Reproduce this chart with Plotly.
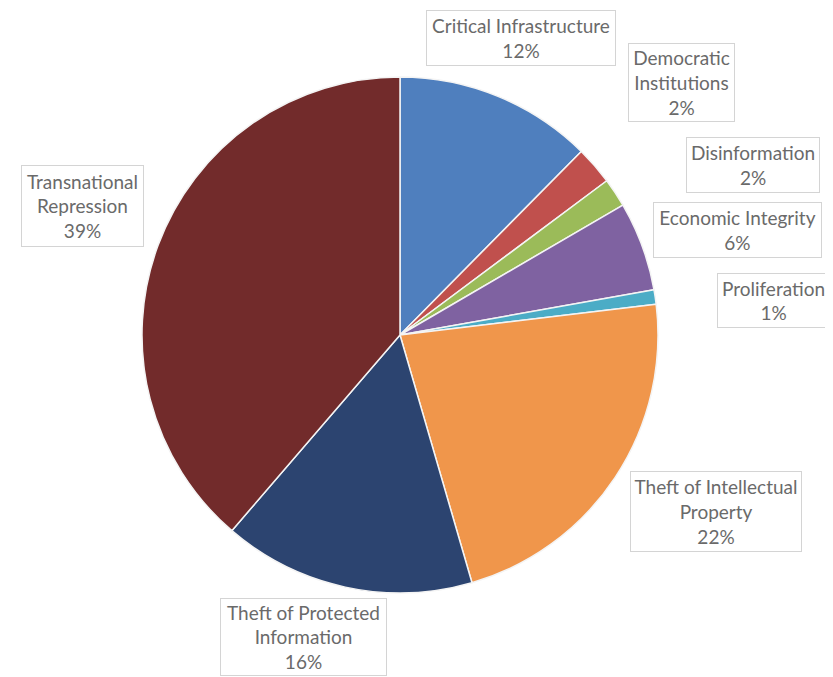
import plotly.graph_objects as go

categories = ["Critical Infrastructure", "Democratic Institutions", "Disinformation",
              "Economic Integrity", "Proliferation", "Theft of Intellectual Property",
              "Theft of Protected Information", "Transnational Repression"]
values = [12.4, 2.4, 1.8, 5.6, 0.9, 22.4, 15.8, 38.7]
label_lines = ["Critical Infrastructure", "Democratic<br>Institutions", "Disinformation",
               "Economic Integrity", "Proliferation", "Theft of Intellectual<br>Property",
               "Theft of Protected<br>Information", "Transnational<br>Repression"]
colors = ["#4F7FBE", "#C0504D", "#9BBB59", "#7F62A1", "#4BACC6", "#F0964B", "#2C4470", "#722B2B"]

OFF = 8  # page body margin
W, H = 833 - OFF, 677 - OFF
cx, cy, r = 400 - OFF, 335 - OFF, 258

fig = go.Figure(go.Pie(
    labels=categories, values=values, sort=False, direction="clockwise", rotation=0,
    marker=dict(colors=colors, line=dict(color="#f4f4f4", width=1.5)),
    textinfo="none", hoverinfo="label+percent", showlegend=False,
    domain=dict(x=[(cx - r) / W, (cx + r) / W], y=[(H - cy - r) / H, (H - cy + r) / H]),
))

# label boxes in window pixels: (center x, center y, box width, box height)
boxes = [(521, 38, 190, 56), (681, 82, 107, 79), (753, 165, 134, 56), (737, 230, 169, 56),
         (773, 300, 113, 55), (716, 512, 172, 81), (303, 637, 167, 78), (82, 206, 123, 82)]
total = sum(values)
for txt, v, (bx, by, bw, bh) in zip(label_lines, values, boxes):
    fig.add_annotation(
        x=(bx - OFF) / W, y=1 - (by - OFF) / H, xref="paper", yref="paper",
        xanchor="center", yanchor="middle",
        text=f"{txt}<br>{round(v / total * 100)}%", showarrow=False, align="center",
        font=dict(family="Lato, Open Sans, sans-serif", size=19, color="#6a6a6a"),
        bordercolor="#d4d4d4", borderwidth=1, borderpad=1, bgcolor="white",
        width=bw - 4, height=bh - 4,
    )

fig.update_layout(width=W, height=H, margin=dict(l=0, r=0, t=0, b=0),
                  paper_bgcolor="white", plot_bgcolor="white")
fig.write_html("out.html")
